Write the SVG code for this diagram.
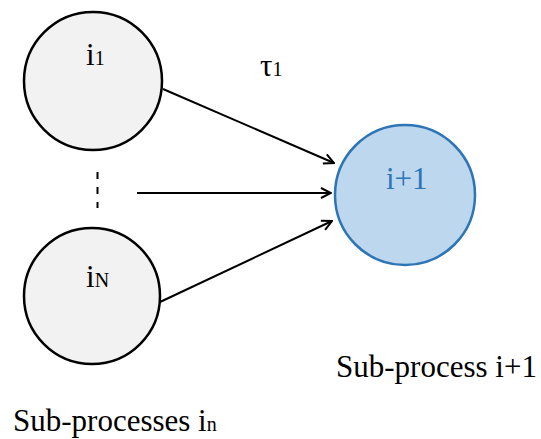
<svg xmlns="http://www.w3.org/2000/svg" width="541" height="439" viewBox="0 0 541 439">
<style>
.t{font-family:"Liberation Serif","Times New Roman",serif;font-size:31px;fill:#000}
.s{font-size:20px}
.src{fill:#F2F2F2;stroke:#000;stroke-width:2.5}
.dst{fill:#BDD7EE;stroke:#2E75B6;stroke-width:2.5}
.e{stroke:#000;stroke-width:2;fill:none}
</style>
<defs>
<marker id="ah" viewBox="0 0 12 12" refX="11" refY="6" markerWidth="12" markerHeight="12" markerUnits="userSpaceOnUse" orient="auto">
<path d="M1,1 L11,6 L1,11" fill="none" stroke="#000" stroke-width="2"/>
</marker>
</defs>
<rect width="541" height="439" fill="#fff"/>
<g id="connectors">
<line class="e" x1="163" y1="89" x2="334" y2="163" marker-end="url(#ah)"/>
<line class="e" x1="137" y1="193" x2="331" y2="193" marker-end="url(#ah)"/>
<line class="e" x1="160" y1="302" x2="332" y2="221" marker-end="url(#ah)"/>
<line class="e" x1="97.5" y1="172" x2="97.5" y2="208" stroke-dasharray="7,8"/>
</g>
<g id="node-i1">
<circle class="src" cx="93" cy="81" r="69"/>
<text class="t" x="86" y="65">i<tspan class="s">1</tspan></text>
</g>
<g id="node-iN">
<circle class="src" cx="92" cy="296" r="68"/>
<text class="t" x="86" y="287">i<tspan class="s">N</tspan></text>
</g>
<g id="node-next">
<circle class="dst" cx="405" cy="195" r="70"/>
<text class="t" x="386" y="189" style="fill:#2E75B6">i+1</text>
</g>
<g id="labels">
<text class="t" x="260" y="76">τ<tspan class="s">1</tspan></text>
<text class="t" x="336" y="377">Sub-process i+1</text>
<text class="t" x="13" y="431">Sub-processes i<tspan class="s">n</tspan></text>
</g>
</svg>
